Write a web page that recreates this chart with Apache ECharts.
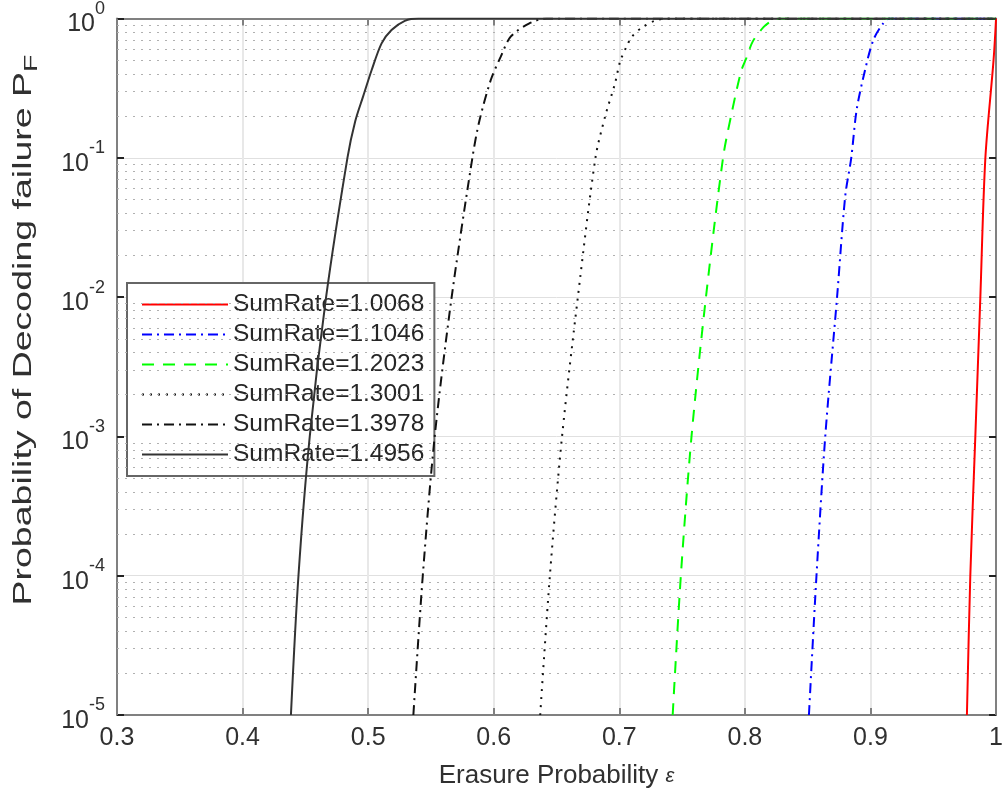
<!DOCTYPE html>
<html>
<head>
<meta charset="utf-8">
<script src="https://cdn.jsdelivr.net/npm/echarts@6/dist/echarts.min.js"></script>
<style>
html,body{margin:0;padding:0;background:#fff;}
#main{width:1006px;height:797px;}
</style>
</head>
<body>
<div id="main"></div>
<script>
// legend names
var names = ['SumRate=1.0068','SumRate=1.1046','SumRate=1.2023','SumRate=1.3001','SumRate=1.3978','SumRate=1.4956'];

// erasure probability / failure probability
var eps1 = [0.9768, 0.9795, 0.9835, 0.9875, 0.9915, 0.998, 1.0];
var pf1  = [1e-5, 1e-4, 1e-3, 1e-2, 0.1, 0.5, 1];

var eps2 = [0.851, 0.857, 0.864, 0.8734, 0.8799, 0.8847, 0.889, 0.8957, 0.9023, 0.910, 0.9155, 1.0];
var pf2  = [1e-5, 1e-4, 1e-3, 1e-2, 0.053, 0.1, 0.221, 0.427, 0.70, 0.92, 1, 1];

var eps3 = [0.7425, 0.749, 0.7575, 0.769, 0.7826, 0.789, 0.797, 0.8008, 0.8063, 0.815, 0.822, 0.828, 1.0];
var pf3  = [1e-5, 1e-4, 1e-3, 1e-2, 0.1, 0.2, 0.418, 0.51, 0.685, 0.87, 0.97, 1, 1];

var eps4 = [0.637, 0.6447, 0.6544, 0.667, 0.681, 0.6887, 0.6966, 0.7006, 0.7057, 0.71, 0.718, 0.729, 0.74, 1.0];
var pf4  = [1e-5, 1e-4, 1e-3, 1e-2, 0.1, 0.198, 0.343, 0.49, 0.628, 0.74, 0.86, 0.97, 1, 1];

var eps5 = [0.536, 0.5435, 0.553, 0.5665, 0.583, 0.5885, 0.5977, 0.6056, 0.6135, 0.628, 0.642, 1.0];
var pf5  = [1e-5, 1e-4, 1e-3, 1e-2, 0.1, 0.183, 0.363, 0.532, 0.74, 0.92, 1, 1];

var eps6 = [0.4385, 0.4445, 0.4535, 0.4665, 0.4835, 0.4897, 0.496, 0.5028, 0.5107, 0.5186, 0.5292, 0.54, 1.0];
var pf6  = [1e-5, 1e-4, 1e-3, 1e-2, 0.1, 0.183, 0.276, 0.427, 0.663, 0.826, 0.962, 1, 1];

// minor log grid (2..9 x 10^k)
var decades = [1e-5, 1e-4, 1e-3, 1e-2, 1e-1];
var mult = [2, 3, 4, 5, 6, 7, 8, 9];

var font = "'Liberation Sans', Arial, sans-serif";
var axisColor = '#808080';
var txtColor = '#303030';

function zip(xs, ys){
	var out = [];
	for(var i = 0; i < xs.length; i++){
		out.push([xs[i], ys[i]]);
	}
	return out;
}

var minorLines = [];
decades.forEach(function(d){
	mult.forEach(function(m){
		var v = d * m;
		minorLines.push([{coord: [0.3, v]}, {coord: [1.0, v]}]);
	});
});

var styles = [
	{color:'#ff0000', type:'solid', width:2},
	{color:'#0000ff', type:[10,5,2,5], width:2},
	{color:'#00ff00', type:[12,9], width:2},
	{color:'#111111', type:[2,6], width:2},
	{color:'#111111', type:[10,5,2,5], width:2},
	{color:'#333333', type:'solid', width:2}
];
var allData = [zip(eps1,pf1), zip(eps2,pf2), zip(eps3,pf3), zip(eps4,pf4), zip(eps5,pf5), zip(eps6,pf6)];

var series = allData.map(function(d, i){
	return {
		name: names[i],
		type: 'line',
		data: d,
		symbol: 'none',
		showSymbol: false,
		smooth: 0.3,
		color: styles[i].color,
		lineStyle: styles[i],
		z: 5
	};
});
// dotted minor grid on the log axis
series.push({
	type: 'line',
	data: [],
	silent: true,
	z: 1,
	markLine: {
		silent: true,
		symbol: 'none',
		precision: 10,
		label: {show: false},
		lineStyle: {color:'#b0b0b0', type:[2,6], width:1},
		data: minorLines,
		animation: false
	}
});

var myChart = echarts.init(document.getElementById('main'));
myChart.setOption({
	animation: false,
	backgroundColor: '#fff',
	grid: {left:117, right:4, top:15, bottom:82},
	legend: {
		data: names,
		orient: 'vertical',
		left: 127,
		top: 283,
		backgroundColor: '#fff',
		borderColor: '#666',
		borderWidth: 2,
		borderRadius: 0,
		padding: [9, 10, 9, 14],
		itemWidth: 86,
		itemHeight: 14,
		itemGap: 5,
		itemStyle: {opacity: 0},
		textStyle: {fontFamily: font, fontSize: 24.5, color: '#262626'}
	},
	graphic: [{
		type: 'text',
		x: 24,
		y: 330,
		rotation: Math.PI / 2,
		scaleX: 1.5,
		silent: true,
		style: {
			text: '{a|Probability of Decoding failure P}{f|F}',
			align: 'center',
			verticalAlign: 'middle',
			rich: {
				a: {fontFamily: font, fontSize: 25, fill: txtColor},
				f: {fontFamily: font, fontSize: 19, fill: txtColor, padding: [16,0,0,0]}
			}
		}
	}],
	xAxis: [{
		type: 'value',
		min: 0.3,
		max: 1,
		interval: 0.1,
		name: '{a|Erasure Probability }{e|ε}',
		nameLocation: 'middle',
		nameGap: 48,
		nameTextStyle: {
			rich: {
				a: {fontFamily: font, fontSize: 26, color: txtColor},
				e: {fontFamily: font, fontSize: 20, fontStyle: 'italic', color: txtColor}
			}
		},
		axisLine: {lineStyle: {color: axisColor, width: 2}},
		axisTick: {inside: true, length: 7, lineStyle: {color: axisColor, width: 2}},
		axisLabel: {
			fontFamily: font, fontSize: 25, color: txtColor, margin: 11,
			formatter: function(v){ return String(Math.round(v*10)/10); }
		},
		splitLine: {lineStyle: {color: '#e8e8e8', width: 2}}
	}, {
		type: 'value',
		position: 'top',
		min: 0.3,
		max: 1,
		interval: 0.1,
		axisLine: {lineStyle: {color: axisColor, width: 2}},
		axisTick: {inside: true, length: 7, lineStyle: {color: axisColor, width: 2}},
		axisLabel: {show: false},
		splitLine: {show: false}
	}],
	yAxis: [{
		type: 'log',
		logBase: 10,
		min: 1e-5,
		max: 1,
		axisLine: {lineStyle: {color: axisColor, width: 2}},
		axisTick: {inside: true, length: 7, lineStyle: {color: '#222', width: 2}},
		axisLabel: {
			margin: 12,
			formatter: function(v){
				return '{b|10}{s|' + Math.round(Math.log10(v)) + '}';
			},
			rich: {
				b: {fontFamily: font, fontSize: 25, color: txtColor, padding: [12,0,0,0]},
				s: {fontFamily: font, fontSize: 18, color: txtColor, verticalAlign: 'top'}
			}
		},
		splitLine: {lineStyle: {color: '#e0e0e0', width: 1}}
	}, {
		type: 'log',
		logBase: 10,
		min: 1e-5,
		max: 1,
		position: 'right',
		axisLine: {lineStyle: {color: axisColor, width: 2}},
		axisTick: {inside: true, length: 7, lineStyle: {color: '#222', width: 2}},
		axisLabel: {show: false},
		splitLine: {show: false}
	}],
	series: series
});
</script>
</body>
</html>
